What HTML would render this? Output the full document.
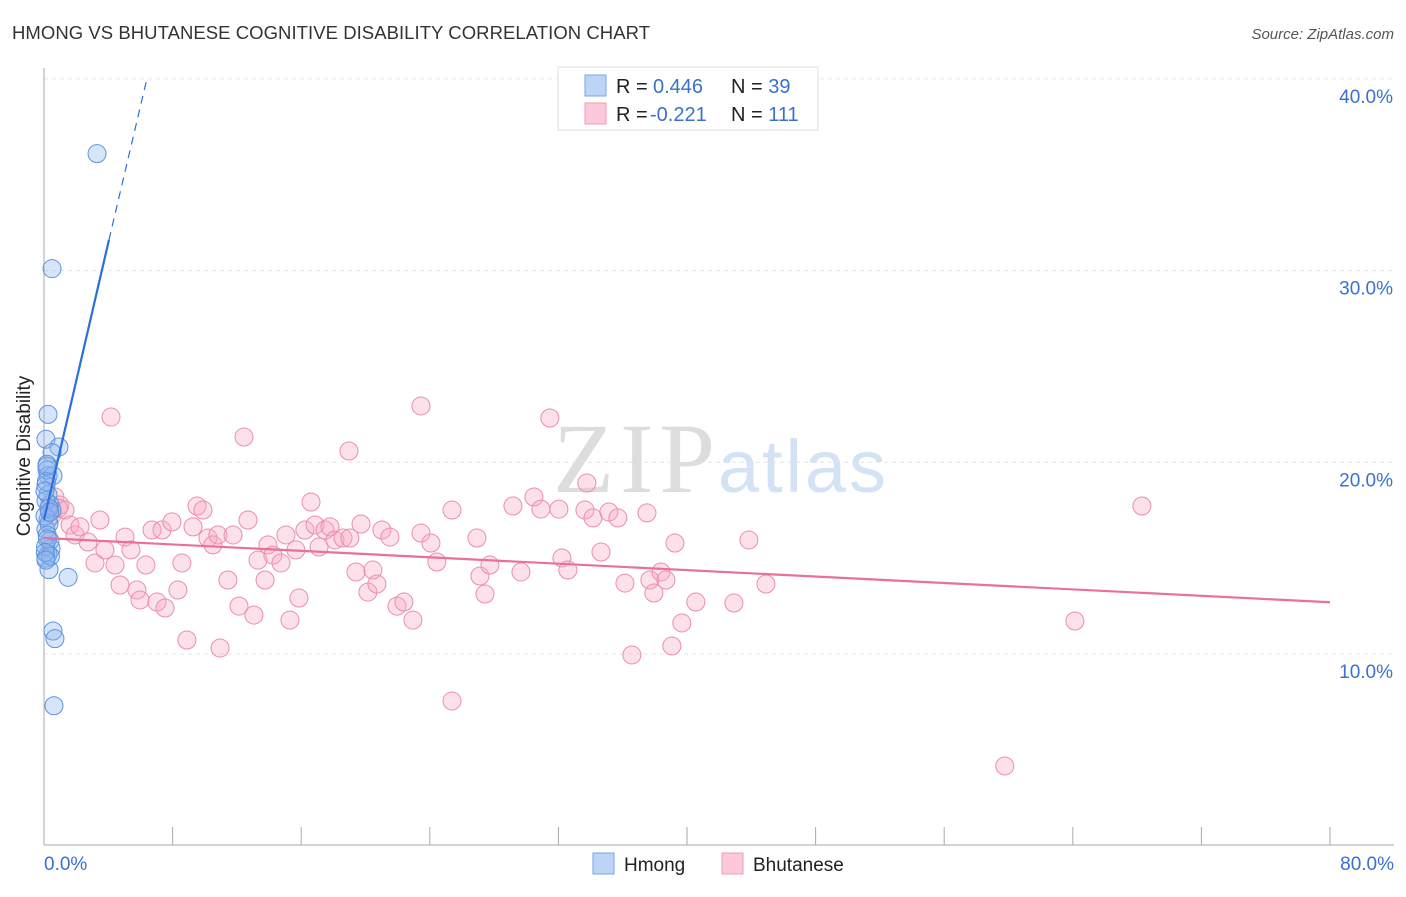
<!DOCTYPE html>
<html><head><meta charset="utf-8"><style>
body{margin:0;background:#fff;font-family:"Liberation Sans",sans-serif}
svg text{font-family:"Liberation Sans",sans-serif}
</style></head><body>
<svg id="c" width="1406" height="892">
<text x="12" y="39" font-size="18.5" fill="#333" textLength="638">HMONG VS BHUTANESE COGNITIVE DISABILITY CORRELATION CHART</text>
<text x="1394" y="39" font-size="15" fill="#555" font-style="italic" text-anchor="end">Source: ZipAtlas.com</text>
<g><text x="553" y="492" font-size="100" fill="#ddd" textLength="162" style="font-family:'Liberation Serif',serif">ZIP</text><text x="718" y="492" font-size="74" fill="#d3e2f5" textLength="168">atlas</text></g>
<g id="grid"></g><g id="axes"></g><g id="marks"></g>
<text x="30" y="456" font-size="19" fill="#222" text-anchor="middle" transform="rotate(-90 30 456)">Cognitive Disability</text>
<g>
<rect x="558" y="67" width="260" height="63" fill="#fff" stroke="#ddd"/>
<rect x="585" y="75" width="21" height="21" fill="#bcd4f6" stroke="#7aa6e6"/>
<rect x="585" y="103" width="21" height="21" fill="#fcc9d8" stroke="#f09ab4"/>
<text x="616" y="93" font-size="20" fill="#222">R = <tspan x="653" fill="#3a70cf">0.446</tspan><tspan x="731">N = </tspan><tspan fill="#3a70cf">39</tspan></text>
<text x="616" y="121" font-size="20" fill="#222">R = <tspan x="650" fill="#3a70cf">-0.221</tspan><tspan x="731">N = </tspan><tspan fill="#3a70cf">111</tspan></text>
</g>
<g>
<rect x="593" y="853" width="21" height="21" fill="#bcd4f6" stroke="#7aa6e6"/><text x="624" y="871" font-size="19" fill="#222">Hmong</text>
<rect x="722" y="853" width="21" height="21" fill="#fcc9d8" stroke="#f09ab4"/><text x="753" y="871" font-size="19" fill="#222">Bhutanese</text>
</g>
</svg>
<script>
const yTicks=[10,20,30,40];
const yTickLabels=["10.0%","20.0%","30.0%","40.0%"];
const xTickLabels=["0.0%","80.0%"];
const hmongX=[3.3,0.5,0.25,0.12,0.93,0.5,0.19,0.25,0.56,0.12,0.25,0.37,0.5,0.25,0.12,0.37,0.44,0.25,0.12,0.31,1.5,0.56,0.68,0.62,0.19,0.12,0.06,0.31,0.2,0.1,0.4,0.15,0.06,0.3,0.22,0.08,0.18,0.35,0.12];
const hmongY=[36.1,30.1,22.5,21.2,20.8,20.5,19.9,19.3,19.3,18.8,18.3,17.8,17.5,17.0,16.5,15.9,15.5,15.2,15.0,14.4,14.0,11.2,10.8,7.3,19.6,18.0,17.2,16.8,16.2,15.6,15.1,19.0,18.5,17.6,16.0,15.3,19.8,17.4,14.9];
const bhuX=[4.17,12.44,18.97,23.45,31.47,33.77,68.30,64.13,59.77,25.38,36.57,39.06,10.95,8.89,0.68,0.99,1.31,0.50,1.62,1.93,2.24,2.74,3.17,3.48,3.79,4.42,4.73,5.04,5.41,5.78,5.97,6.34,6.72,7.03,7.34,7.53,7.96,8.33,8.58,9.27,9.52,9.89,10.20,10.51,10.82,11.44,11.76,12.13,12.69,13.06,13.31,13.75,13.93,14.24,14.74,15.05,15.30,15.67,15.86,16.23,16.61,16.86,17.11,17.48,17.79,18.10,18.60,19.03,19.41,19.72,20.15,20.46,20.71,21.02,21.52,21.96,22.39,22.95,23.45,24.07,24.44,25.38,26.93,27.12,27.43,27.74,29.17,29.67,30.48,30.91,32.03,32.22,32.59,33.65,34.15,34.65,35.14,35.70,36.14,37.51,37.69,37.94,38.38,38.69,39.25,39.68,40.55,42.92,43.85,44.91,0.9];
const bhuY=[22.36,21.32,20.59,22.94,22.31,18.92,17.72,11.72,4.16,7.55,9.95,10.42,10.31,10.73,18.19,17.77,17.51,17.25,16.73,16.21,16.63,15.84,14.75,16.99,15.43,14.64,13.60,16.10,15.43,13.34,12.82,14.64,16.47,12.71,16.47,12.40,16.89,13.34,14.75,16.63,17.72,17.51,16.05,15.69,16.21,13.86,16.21,12.50,16.99,12.03,14.90,13.86,15.69,15.16,14.75,16.21,11.77,15.43,12.92,16.47,17.93,16.73,15.58,16.47,16.63,15.95,16.05,16.05,14.28,16.78,13.23,14.38,13.65,16.47,16.10,12.50,12.71,11.77,16.31,15.79,14.80,17.51,16.05,14.07,13.13,14.64,17.72,14.28,18.19,17.56,17.56,15.01,14.38,17.51,17.10,15.32,17.41,17.10,13.70,17.36,13.86,13.18,14.28,13.86,15.79,11.62,12.71,12.66,15.95,13.65,17.6];
const hmongTrend=[[0,17.0],[4.04,31.6]], hmongDash=[[4.04,31.6],[6.4,40.0]];
const bhuTrend=[[0,16.05],[80,12.7]];
const X=v=>44+v*16.075, Y=v=>654-(v-10)*19.17;
const NS='http://www.w3.org/2000/svg';
function mk(t,a,p){const e=document.createElementNS(NS,t);for(const k in a)e.setAttribute(k,a[k]);document.getElementById(p).appendChild(e);return e;}
yTicks.forEach((t,i)=>{
 const g=mk('line',{x1:44,x2:1394,y1:Y(t),y2:Y(t),stroke:'#e4e4e4','stroke-dasharray':'4,4'},'grid');
 
 
 const l=mk('text',{x:1393,y:Y(t)+24,'font-size':19,fill:'#3a70cf','text-anchor':'end'},'axes');
 l.textContent=yTickLabels[i];
 
 
});
const ya=mk('line',{x1:44,x2:44,y1:68,y2:845,stroke:'#aaa'},'axes');


const xa=mk('line',{x1:44,x2:1394,y1:845,y2:845,stroke:'#aaa'},'axes');


for(let i=1;i<=10;i++){const t=mk('line',{x1:X(i*8),x2:X(i*8),y1:827,y2:845,stroke:'#aaa'},'axes');
 
 }
[[X(0),'start',xTickLabels[0]],[1394,'end',xTickLabels[1]]].forEach(d=>{const t=mk('text',{x:d[0],y:870,'font-size':19,fill:'#3a70cf','text-anchor':d[1]},'axes');t.textContent=d[2];
 
 });
bhuX.forEach((v,i)=>{const c=mk('circle',{cx:X(v),cy:Y(bhuY[i]),r:9,fill:'rgba(248,170,195,0.35)',stroke:'#eb8eaa','stroke-width':1},'marks');
 
 });
hmongX.forEach((v,i)=>{const c=mk('circle',{cx:X(v),cy:Y(hmongY[i]),r:9,fill:'rgba(140,180,240,0.35)',stroke:'#5f92dc','stroke-width':1},'marks');
 
 });
const bl=mk('line',{x1:X(bhuTrend[0][0]),y1:Y(bhuTrend[0][1]),x2:X(bhuTrend[1][0]),y2:Y(bhuTrend[1][1]),stroke:'#e8709a','stroke-width':2.2},'marks');


const hl=mk('line',{x1:X(hmongTrend[0][0]),y1:Y(hmongTrend[0][1]),x2:X(hmongTrend[1][0]),y2:Y(hmongTrend[1][1]),stroke:'#2a6fdb','stroke-width':2.2},'marks');


const hd=mk('line',{x1:X(hmongDash[0][0]),y1:Y(hmongDash[0][1]),x2:X(hmongDash[1][0]),y2:Y(hmongDash[1][1]),stroke:'#2a6fdb','stroke-width':1.2,'stroke-dasharray':'8,6'},'marks');


</script>
</body></html>
